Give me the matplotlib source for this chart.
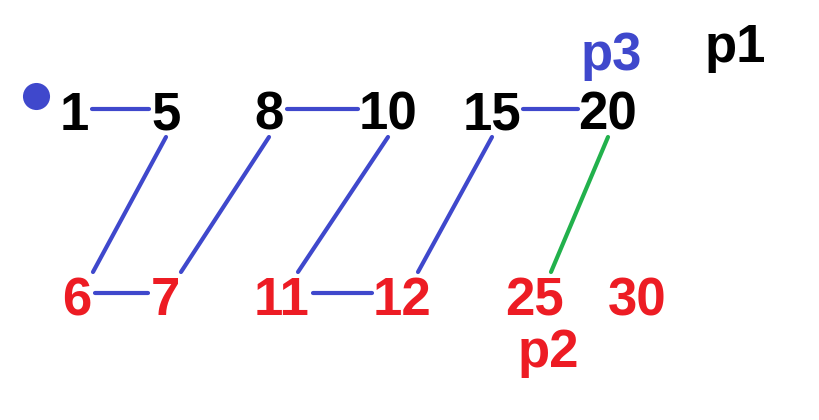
import matplotlib
matplotlib.use("Agg")
import matplotlib.pyplot as plt

# two sorted runs being merged
top_vals = [1, 5, 8, 10, 15, 20]
bottom_vals = [6, 7, 11, 12, 25, 30]

# where each number sits (pixel columns of the drawing)
top_x = [74, 166, 269, 388, 492, 608]
bottom_x = [77, 165, 282, 402, 535, 637]

# merge path: ('t', i) top row node, ('b', i) bottom row node
merge_path = [('t', 0), ('t', 1), ('b', 0), ('b', 1), ('t', 2), ('t', 3),
              ('b', 2), ('b', 3), ('t', 4), ('t', 5)]
pending_edge = [('t', 5), ('b', 4)]

pointers = ['p1', 'p2', 'p3']

BLUE = '#3f48cc'
RED = '#ed1c24'
GREEN = '#22b14c'
FONT = 'Liberation Sans'
FS = 38

fig = plt.figure(figsize=(8.2, 4.2), dpi=100)
ax = fig.add_axes([0, 0, 1, 1])
ax.set_xlim(0, 820)
ax.set_ylim(420, 0)
ax.axis('off')

TOP_BASE, BOT_BASE = 130, 315
TOP_LINE_Y, BOT_LINE_Y = 109, 293
DIAG_TOP_Y, DIAG_BOT_Y = 137, 272

for v, x in zip(top_vals, top_x):
    ax.text(x, TOP_BASE, str(v), ha='center', va='baseline', fontsize=FS,
            fontweight='bold', family=FONT, color='black')
for v, x in zip(bottom_vals, bottom_x):
    ax.text(x, BOT_BASE, str(v), ha='center', va='baseline', fontsize=FS,
            fontweight='bold', family=FONT, color=RED)


def node(n):
    row, i = n
    if row == 't':
        return top_x[i], top_vals[i]
    return bottom_x[i], bottom_vals[i]


def half_w(v):
    return 13 * len(str(v))


def draw_edge(a, b, color):
    (xa, va), (xb, vb) = node(a), node(b)
    if a[0] == b[0]:
        y = TOP_LINE_Y if a[0] == 't' else BOT_LINE_Y
        ax.plot([xa + half_w(va) + 5, xb - half_w(vb) - 4], [y, y],
                color=color, lw=3, solid_capstyle='round')
    else:
        if a[0] == 'b':
            (xa, va), (xb, vb) = (xb, vb), (xa, va)
        ax.plot([xa, xb + 16], [DIAG_TOP_Y, DIAG_BOT_Y],
                color=color, lw=3, solid_capstyle='round')


for a, b in zip(merge_path[:-1], merge_path[1:]):
    draw_edge(a, b, BLUE)
draw_edge(pending_edge[0], pending_edge[1], GREEN)

# start marker
ax.scatter([36], [96], s=380, color=BLUE, zorder=3, linewidths=0)

# pointer labels
ax.text(735, 62, pointers[0], ha='center', va='baseline', fontsize=FS,
        fontweight='bold', family=FONT, color='black')
ax.text(548, 367, pointers[1], ha='center', va='baseline', fontsize=FS,
        fontweight='bold', family=FONT, color=RED)
ax.text(611, 70, pointers[2], ha='center', va='baseline', fontsize=FS,
        fontweight='bold', family=FONT, color=BLUE)

fig.savefig('out.png', dpi=100)
